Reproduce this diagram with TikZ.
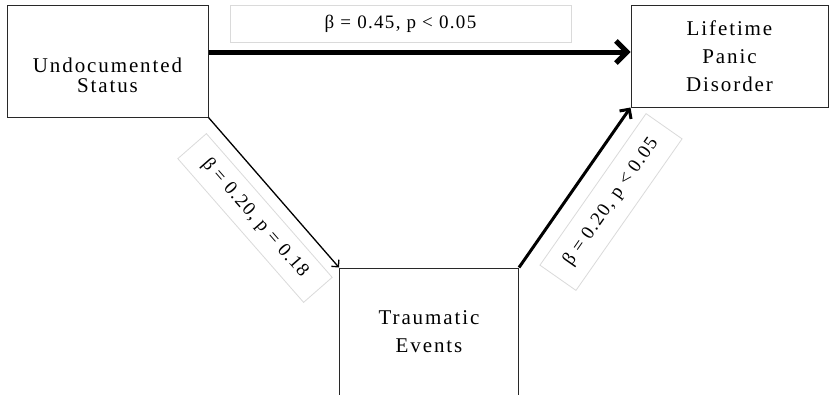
\documentclass[tikz,border=0pt]{standalone}
\usepackage{fontspec}
\setmainfont{Liberation Serif}[LetterSpace=9]
\newfontfamily\coeffont{Liberation Serif}[LetterSpace=7]
\usetikzlibrary{arrows.meta,positioning,calc}
\definecolor{GrisBorde}{RGB}{218,218,218}
\definecolor{CasiNegro}{RGB}{40,40,40}

\begin{document}
\begin{tikzpicture}[x=1pt, y=-1pt,
    var/.style={draw=CasiNegro, line width=1pt, fill=white, inner sep=0pt},
    vartxt/.style={align=center, font=\fontsize{21}{28}\selectfont, inner sep=0pt},
    coef/.style={draw=GrisBorde, line width=0.8pt, fill=white, inner sep=0pt,
      font=\coeffont\fontsize{19}{20}\selectfont},
    path/.style={draw=black}
  ]
    \useasboundingbox (0,0) rectangle (830,394);
    \clip (0,0) rectangle (830,394);
    % variables
    \node[var, minimum width=201pt, minimum height=112pt] (us) at (107.5,61) {};
    \node[vartxt, font=\fontsize{21}{20}\selectfont] (usT) at ([yshift=-14pt]us.center) {Undocumented\\Status};
    \node[var, minimum width=197pt, minimum height=102pt] (lp) at (729.5,56) {};
    \node[vartxt] (lpT) at (lp.center) {Lifetime\\Panic\\Disorder};
    \node[var, minimum width=179pt, minimum height=128pt] (te) at (429,332) {};
    \node[vartxt] (teT) at (te.center) {Traumatic\\Events};
    % coefficients
    \node[coef, minimum width=341pt, minimum height=37pt] (c1) at (400.5,23.5) {β = 0.45, p < 0.05};
    \node[coef, minimum width=191pt, minimum height=38pt, rotate=-48.8] (c2) at (255,218) {β = 0.20, p = 0.18};
    \node[coef, minimum width=185pt, minimum height=44pt, rotate=55] (c3) at (611,202) {β = 0.20, p < 0.05};
    % paths
    \draw[path, line width=5pt, -{Straight Barb[length=11pt, width=22pt]}] ([yshift=9pt]us.east) -- ([yshift=4pt]lp.west);
    \draw[path, line width=1.3pt, -{Straight Barb[length=5pt, width=10pt]}] (us.south east) -- (te.north west);
    \draw[path, line width=3pt, -{Straight Barb[length=7pt, width=14pt]}] (te.north east) -- (lp.south west);
\end{tikzpicture}
\end{document}
